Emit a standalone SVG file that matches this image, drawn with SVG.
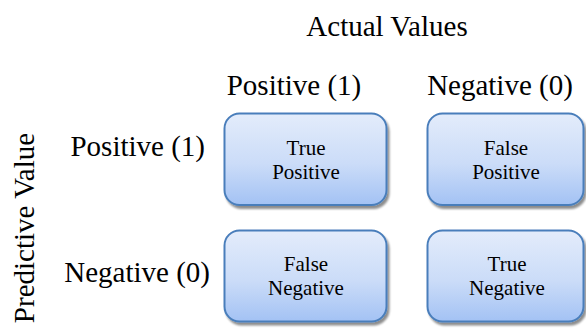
<svg xmlns="http://www.w3.org/2000/svg" width="586" height="329" viewBox="0 0 586 329">
  <style>
    .hdr { font-size: 29px; fill: #000; }
    .lbl { font-size: 21px; fill: #000; text-anchor: middle; }
    .box { fill: url(#g); stroke: #4a7ebb; stroke-width: 2; filter: url(#sh); }
  </style>
  <defs>
    <linearGradient id="g" x1="0" y1="0" x2="0" y2="1">
      <stop offset="0" stop-color="#e3ecfb"/>
      <stop offset="0.55" stop-color="#cbdcf8"/>
      <stop offset="1" stop-color="#a3c2f4"/>
    </linearGradient>
    <filter id="sh" x="-10%" y="-10%" width="125%" height="130%">
      <feGaussianBlur in="SourceAlpha" stdDeviation="1.2"/>
      <feOffset dx="1.5" dy="2.5" result="b"/>
      <feComponentTransfer><feFuncA type="linear" slope="0.45"/></feComponentTransfer>
      <feMerge><feMergeNode/><feMergeNode in="SourceGraphic"/></feMerge>
    </filter>
  </defs>

  <g id="headers" font-family="'Liberation Serif', 'Times New Roman', 'DejaVu Serif', serif">
    <text class="hdr" x="387" y="36" text-anchor="middle">Actual Values</text>
    <text class="hdr" x="294" y="95" text-anchor="middle">Positive (1)</text>
    <text class="hdr" x="500" y="95" text-anchor="middle">Negative (0)</text>
    <text class="hdr" x="205" y="156" text-anchor="end">Positive (1)</text>
    <text class="hdr" x="210" y="282" text-anchor="end">Negative (0)</text>
    <text class="hdr" text-anchor="middle" transform="translate(34,228) rotate(-90)">Predictive Value</text>
  </g>

  <g id="tp" font-family="'Liberation Serif', 'Times New Roman', 'DejaVu Serif', serif">
    <rect class="box" x="224.5" y="113.5" width="162" height="91.5" rx="15"/>
    <text class="lbl" x="306" y="155">True</text>
    <text class="lbl" x="306" y="179">Positive</text>
  </g>
  <g id="fp" font-family="'Liberation Serif', 'Times New Roman', 'DejaVu Serif', serif">
    <rect class="box" x="427.5" y="113.5" width="156" height="91.5" rx="15"/>
    <text class="lbl" x="506" y="155">False</text>
    <text class="lbl" x="506" y="179">Positive</text>
  </g>
  <g id="fn" font-family="'Liberation Serif', 'Times New Roman', 'DejaVu Serif', serif">
    <rect class="box" x="224.5" y="230.5" width="162" height="91" rx="15"/>
    <text class="lbl" x="306" y="271">False</text>
    <text class="lbl" x="306" y="295">Negative</text>
  </g>
  <g id="tn" font-family="'Liberation Serif', 'Times New Roman', 'DejaVu Serif', serif">
    <rect class="box" x="427.5" y="230.5" width="156" height="91" rx="15"/>
    <text class="lbl" x="507" y="271">True</text>
    <text class="lbl" x="507" y="295">Negative</text>
  </g>
  <g id="connectors"></g>
</svg>
